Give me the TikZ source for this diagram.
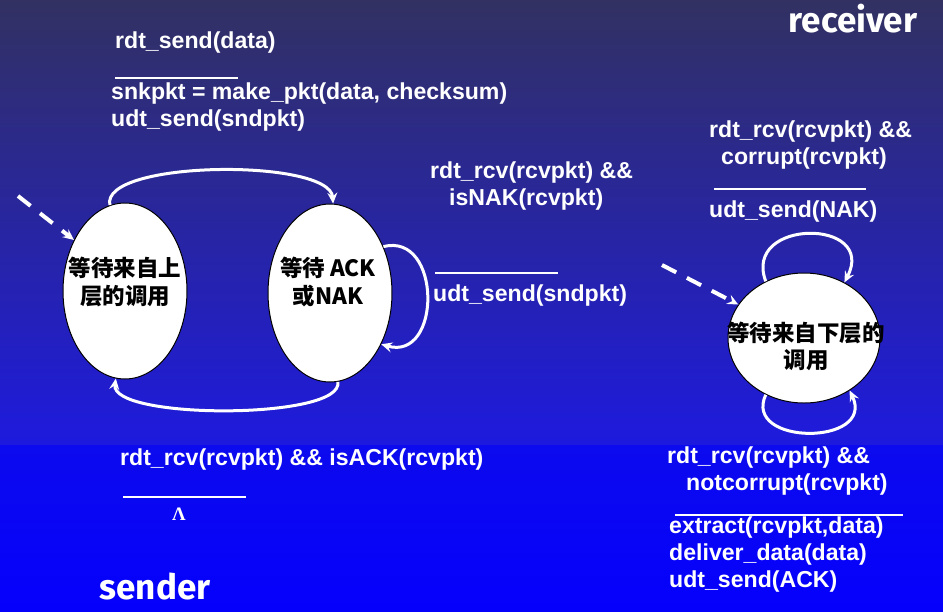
\documentclass[tikz,border=0pt]{standalone}
\usepackage{fontspec}
\setmainfont{Liberation Sans}
\newfontfamily\cjkf{Noto Sans CJK SC}
\newfontfamily\titlef{Fira Sans}
\newfontfamily\serf{Liberation Serif}
\usetikzlibrary{arrows.meta,shapes.geometric}
\definecolor{bgtop}{RGB}{50,49,98}
\definecolor{bgmid}{RGB}{30,26,222}
\definecolor{bglow}{RGB}{12,10,238}
\definecolor{bgbot}{RGB}{5,0,252}
\tikzset{
  lbl/.style={anchor=west,inner sep=0pt,text=white,font=\fontsize{23.1}{27}\selectfont\bfseries,align=left},
  state/.style={ellipse,draw=black,line width=1pt,fill=white,inner sep=0pt,text=black,font=\cjkf\fontsize{22}{28}\selectfont\bfseries,align=center},
  trans/.style={draw=white,line width=3pt,-{Stealth[length=11pt,width=10pt,inset=4pt]}},
  initarr/.style={draw=white,line width=4pt,dash pattern=on 16pt off 12pt,-{Stealth[length=11pt,width=10pt,inset=4pt]}},
  rule/.style={draw=white,line width=2.5pt},
  side/.style={anchor=center,inner sep=0pt,text=white,font=\titlef\fontsize{35}{40}\selectfont\bfseries}
}
\begin{document}
\begin{tikzpicture}[x=1pt,y=-1pt]
\useasboundingbox (0,0) rectangle (943,611);
\shade[top color=bgtop,bottom color=bgmid] (0,0) rectangle (943,446);
\shade[top color=bglow,bottom color=bgbot] (0,445) rectangle (943,611);

% side labels
\node[side] (recv) at (853,19) {receiver};
\node[side] (send) at (155,587) {sender};

% sender states
\node[state,minimum width=124pt,minimum height=176pt] (e1) at (125,291) {};
\node[state,minimum width=124pt,minimum height=178pt] (e2) at (330,293) {};
\node[font=\cjkf\fontsize{22.5}{28}\selectfont\bfseries,align=center,inner sep=0pt] (t1) at (125,282) {等待来自上\\层的调用};
\node[font=\cjkf\fontsize{22.5}{28}\selectfont\bfseries,align=center,inner sep=0pt] (t2) at (328,282) {等待 ACK\\或NAK};

% receiver state
\node[state,minimum width=152pt,minimum height=130pt] (e3) at (804,338) {};
\node[font=\cjkf\fontsize{22.5}{27}\selectfont\bfseries,align=center,inner sep=0pt] (t3) at (806,346) {等待来自下层的\\调用};

% sender transitions
\draw[trans] (e1.100) .. controls (100,160) and (330,158) .. (e2.88);
\draw[trans] (e2.275) .. controls (345,420) and (110,420) .. (e1.264);
\draw[trans] (e2.41) .. controls (442,232) and (442,362) .. (e2.315);
\coordinate (s1) at (18,196);
\draw[initarr] (s1) -- (e1.135);

% receiver transitions
\draw[trans] (e3.124) .. controls (742,218) and (878,218) .. (e3.54);
\draw[trans] (e3.236) .. controls (742,446) and (876,446) .. (e3.311);
\coordinate (s2) at (662,265);
\draw[initarr] (s2) -- (e3.153);

% sender labels
\node[lbl] (a1) at (115,43) {rdt\_send(data)};
\coordinate (r1a) at (115,78); \coordinate (r1b) at (238,78);
\draw[rule] (r1a) -- (r1b);
\node[lbl] (a2) at (111,107) {snkpkt = make\_pkt(data, checksum)\\udt\_send(sndpkt)};

\node[lbl] (b1) at (430,186) {rdt\_rcv(rcvpkt) \&\&\\\hspace*{19pt}isNAK(rcvpkt)};
\coordinate (r2a) at (435,273); \coordinate (r2b) at (558,273);
\draw[rule] (r2a) -- (r2b);
\node[lbl] (b2) at (433,296) {udt\_send(sndpkt)};

\node[lbl] (c1) at (120,460) {rdt\_rcv(rcvpkt) \&\& isACK(rcvpkt)};
\coordinate (r3a) at (123,497); \coordinate (r3b) at (246,497);
\draw[rule] (r3a) -- (r3b);
\node[text=white,inner sep=0pt,font=\serf\fontsize{19}{24}\selectfont\bfseries] (lam) at (179,514) {Λ};

% receiver labels
\node[lbl] (d1) at (709,145) {rdt\_rcv(rcvpkt) \&\&\\\hspace*{12pt}corrupt(rcvpkt)};
\coordinate (r4a) at (714,189); \coordinate (r4b) at (866,189);
\draw[rule] (r4a) -- (r4b);
\node[lbl] (d2) at (709,212) {udt\_send(NAK)};

\node[lbl] (f1) at (667,471) {rdt\_rcv(rcvpkt) \&\&\\\hspace*{19pt}notcorrupt(rcvpkt)};
\coordinate (r5a) at (675,515); \coordinate (r5b) at (903,515);
\draw[rule] (r5a) -- (r5b);
\node[lbl] (f2) at (669,555) {extract(rcvpkt,data)\\deliver\_data(data)\\udt\_send(ACK)};
\end{tikzpicture}
\end{document}
